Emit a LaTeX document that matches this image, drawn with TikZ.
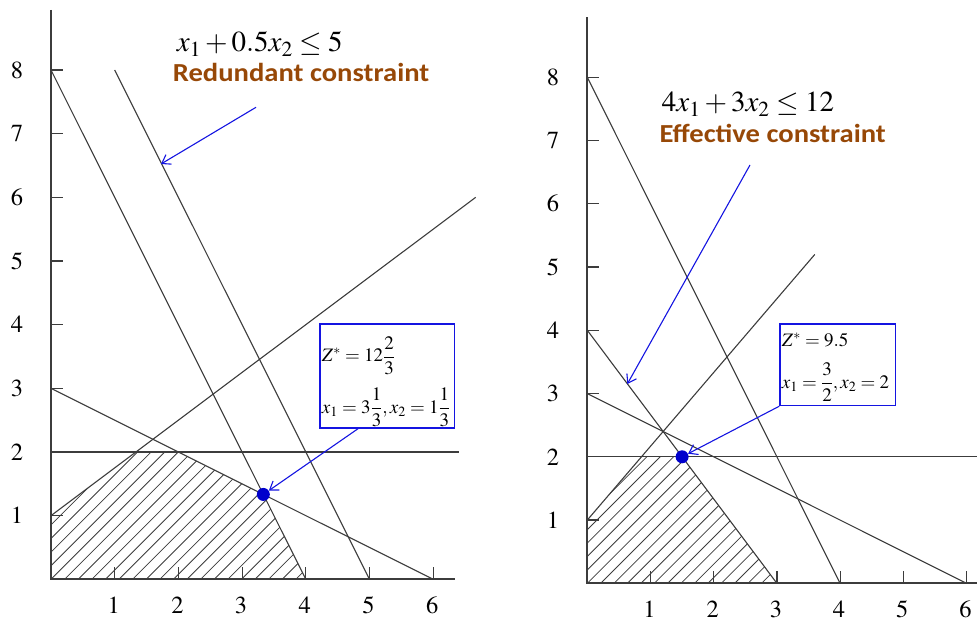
\documentclass[tikz,border=0pt]{standalone}
\usepackage{mathptmx}
\usepackage{fontspec}
\setmainfont{Liberation Serif}
\newfontfamily\cfont{Carlito}
\usetikzlibrary{arrows.meta}
\definecolor{plotgray}{RGB}{60,60,60}
\definecolor{ptblue}{RGB}{0,0,204}
\definecolor{linkblue}{RGB}{20,20,225}
\definecolor{brownlabel}{RGB}{151,72,7}
\tikzset{
  axisline/.style={draw=plotgray, line width=1.8pt},
  tickline/.style={draw=plotgray, line width=1.2pt},
  cline/.style={draw=plotgray, line width=1.1pt},
  hatchline/.style={draw=plotgray, line width=0.8pt},
  numlabel/.style={font=\fontsize{24.5}{24.5}\selectfont, inner sep=0pt},
  ptdot/.style={circle, fill=ptblue, inner sep=0pt, minimum size=13pt},
  infobox/.style={draw=linkblue, line width=1.2pt, inner sep=0pt, anchor=north west},
  callout/.style={draw=linkblue, line width=1.1pt, -{Straight Barb[length=8pt,width=11pt]}},
  boxtext/.style={inner sep=0pt, anchor=west, font=\fontsize{19}{22}\selectfont},
  ttlmath/.style={inner sep=0pt, anchor=base west, font=\fontsize{29}{30}\selectfont},
  ttltext/.style={inner sep=0pt, anchor=base west, text=brownlabel, font=\cfont\bfseries\fontsize{26}{28}\selectfont},
}
\begin{document}
\begin{tikzpicture}[x=1pt,y=-1pt]
\useasboundingbox (0,0) rectangle (977,621);

% ---------------- left plot ----------------
\begin{scope}[shift={(51,579.3)}, x=63.7pt, y=63.66pt]
  \coordinate (La) at (0,0);
  \coordinate (Lb) at (0,1);
  \coordinate (Lc) at (4/3,2);
  \coordinate (Ld) at (2,2);
  \coordinate (Le) at (10/3,4/3);
  \coordinate (Lf) at (4,0);
\end{scope}
\begin{scope}
  \clip (La)--(Lb)--(Lc)--(Ld)--(Le)--(Lf)--cycle;
  \foreach \k in {-12,...,22} \draw[hatchline] ({51+(\k)*13.6},579.3) -- ++(320,-320);
\end{scope}
\begin{scope}[shift={(51,579.3)}, x=63.7pt, y=63.66pt]
  \coordinate (LyT) at (0,8.943);
  \coordinate (LxR) at (6.342,0);
  \draw[axisline] (LyT) -- (La) -- (LxR);
  \foreach \i in {1,...,8} {
    \coordinate (Lyt\i) at (0,\i);
    \draw[tickline] (Lyt\i) -- +(12pt,0pt);
    \node[numlabel, xshift=-34pt] (Lyl\i) at (Lyt\i) {$\i$};
  }
  \foreach \i in {1,...,6} {
    \coordinate (Lxt\i) at (\i,0);
    \draw[tickline] (Lxt\i) -- +(0pt,12pt);
    \node[numlabel, yshift=-25.7pt, xshift=-1pt] (Lxl\i) at (Lxt\i) {$\i$};
  }
  \coordinate (L18) at (1,8);
  \coordinate (L50) at (5,0);
  \coordinate (L08) at (0,8);
  \coordinate (L03) at (0,3);
  \coordinate (L60) at (6,0);
  \coordinate (LrE) at (20/3,6);
  \coordinate (L02) at (0,2);
  \coordinate (LhE) at (6.405,2);
  \draw[cline] (L08) -- (Lf);
  \draw[cline] (L18) -- (L50);
  \draw[cline] (L03) -- (L60);
  \draw[cline] (Lb) -- (LrE);
  \draw[cline] (L02) -- (LhE);
  \node[ptdot] (dotL) at (Le) {};
\end{scope}

\node[ttlmath] (tmL) at (176.7,51.7) {$x_{1}+0.5x_{2}\le 5$};
\node[ttltext] (ttL) at (172.7,81) {\scalebox{1.1}[1]{Redundant constraint}};
\coordinate (rsrc) at (256,107.3);
\coordinate (rtip) at (161,164);
\draw[callout] (rsrc) -- (rtip);

\node[infobox, minimum width=134.7pt, minimum height=104pt] (boxL) at (319.3,323.3) {};
\node[boxtext] (zL) at (321.7,355.8) {$\displaystyle Z^{*}=12\frac{2}{3}$};
\node[boxtext] (xL) at (321.7,407.5) {$\displaystyle x_{1}=3\frac{1}{3},x_{2}=1\frac{1}{3}$};
\draw[callout] ([xshift=39pt]boxL.south west) -- (dotL);

% ---------------- right plot ----------------
\begin{scope}[shift={(587.3,583.3)}, x=63.2pt, y=63.25pt]
  \coordinate (Ra) at (0,0);
  \coordinate (Rb) at (0,1);
  \coordinate (Rc) at (6/7,2);
  \coordinate (Rd) at (1.5,2);
  \coordinate (Re) at (3,0);
\end{scope}
\begin{scope}
  \clip (Ra)--(Rb)--(Rc)--(Rd)--(Re)--cycle;
  \foreach \k in {-12,...,22} \draw[hatchline] ({587.3+(\k)*13.4},583.3) -- ++(320,-320);
\end{scope}
\begin{scope}[shift={(587.3,583.3)}, x=63.2pt, y=63.25pt]
  \coordinate (RyT) at (0,8.949);
  \coordinate (RxR) at (6.25,0);
  \draw[axisline] (RyT) -- (Ra) -- (RxR);
  \foreach \i in {1,...,8} {
    \coordinate (Ryt\i) at (0,\i);
    \draw[tickline] (Ryt\i) -- +(12pt,0pt);
    \node[numlabel, xshift=-34.3pt] (Ryl\i) at (Ryt\i) {$\i$};
  }
  \foreach \i in {1,...,6} {
    \coordinate (Rxt\i) at (\i,0);
    \draw[tickline] (Rxt\i) -- +(0pt,12pt);
    \node[numlabel, yshift=-25.7pt, xshift=-1pt] (Rxl\i) at (Rxt\i) {$\i$};
  }
  \coordinate (R08) at (0,8);
  \coordinate (R40) at (4,0);
  \coordinate (R04) at (0,4);
  \coordinate (R03) at (0,3);
  \coordinate (R60) at (6,0);
  \coordinate (RrE) at (3.6,5.2);
  \coordinate (R02) at (0,2);
  \coordinate (RhE) at (6.25,2);
  \draw[cline] (R08) -- (R40);
  \draw[cline] (R04) -- (Re);
  \draw[cline] (R03) -- (R60);
  \draw[cline] (Rb) -- (RrE);
  \draw[cline] (R02) -- (RhE);
  \node[ptdot] (dotR) at (Rd) {};
\end{scope}

\node[ttlmath] (tmR) at (661.7,111.7) {$4x_{1}+3x_{2}\le 12$};
\node[ttltext] (ttR) at (659.3,142.7) {\scalebox{1.1}[1]{Effective constraint}};
\coordinate (esrc) at (750,165);
\coordinate (etip) at (627.3,384);
\draw[callout] (esrc) -- (etip);

\node[infobox, minimum width=115.7pt, minimum height=81.7pt] (boxR) at (779.3,323.3) {};
\node[boxtext, anchor=base west] (zR) at (781.7,346) {$Z^{*}=9.5$};
\node[boxtext] (xR) at (781.7,382) {$\displaystyle x_{1}=\frac{3}{2},x_{2}=2$};
\draw[callout] (boxR.south west) -- (dotR);
\end{tikzpicture}
\end{document}
